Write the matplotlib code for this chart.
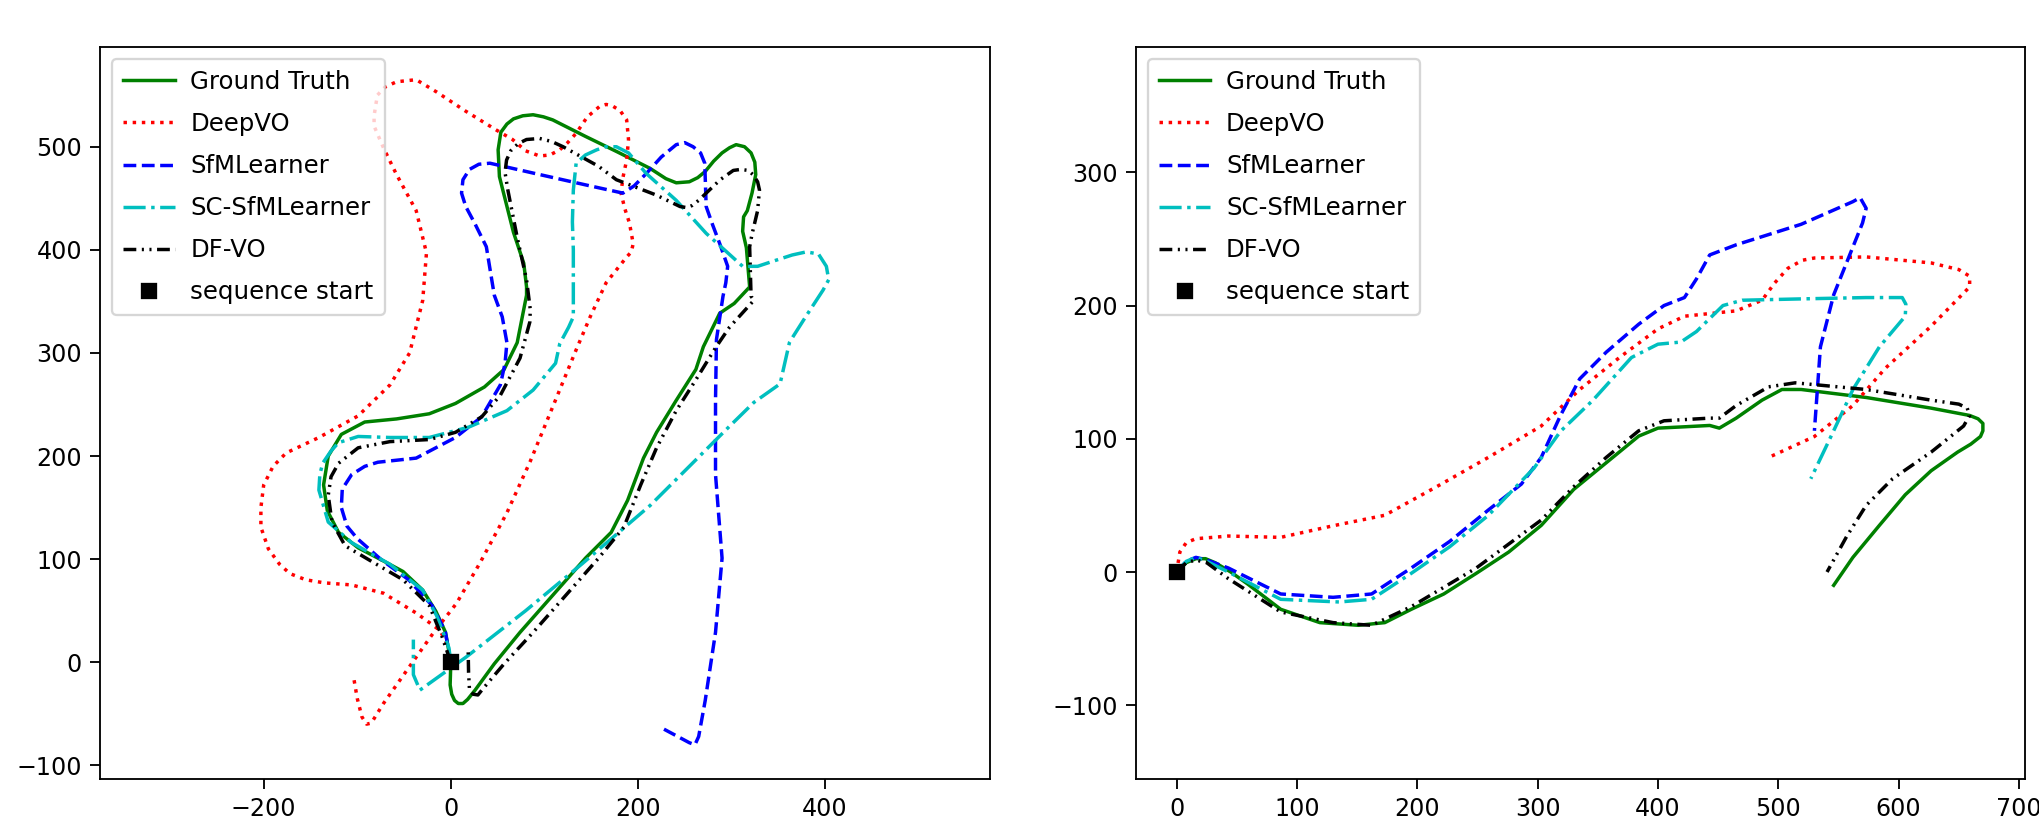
import matplotlib
matplotlib.use("Agg")
import matplotlib.pyplot as plt

# ---------------- Left panel (sequence 09) ----------------
gt09_x = [0, -5.6, -16, -30, -51, -71.5, -99, -120, -132, -136, -131, -117, -92, -58, -23, 5, 36, 57, 71, 81,
          81, 78, 67, 57, 52, 50.6, 53.5, 60, 67, 77, 88, 99, 109, 144, 178, 213, 230, 241, 255, 264, 272, 281,
          290, 298, 305, 314, 321, 325, 326, 322, 317, 313, 312, 316, 318, 319.5, 303, 287.5, 270, 262, 241,
          220, 206, 189, 171.5, 144, 109, 74, 46.5, 26, 18, 13, 8, 4, 1, -0.7, 0]
gt09_y = [0, 29, 49.5, 70, 88, 98, 111, 126, 147, 172, 200, 221, 233, 236, 241, 251, 267, 284, 310, 356,
          364, 387, 417, 453, 471, 497, 514, 522, 527, 530, 531, 529, 526, 510, 495, 479, 469, 465, 466, 470,
          476, 486, 494, 499, 502, 500, 494, 485, 473, 455, 438, 432, 418, 402, 380, 364, 348, 338.5, 306,
          284, 254, 223, 198, 157, 126, 101, 65, 29, -1.5, -27, -36, -40, -40, -37, -31, -22, -1.5]

deepvo09_x = [0, -4.5, -11.6, -36.5, -72, -106, -135, -155, -172, -183, -195, -203, -203, -200, -190, -176,
              -141, -99, -65, -44, -30, -26, -37, -58, -72, -82, -82, -78.5, -70, -58, -37, -15, 15, 49, 66,
              80, 95, 106, 116.5, 125, 134, 146, 159, 166, 172, 181, 188, 190, 188, 184, 182, 186, 191, 195,
              193, 188, 166, 149, 134, 110, 85, 60, 31, 6, -19, -44, -72, -85, -90, -95, -100, -104]
deepvo09_y = [0, 18.4, 31, 47.5, 67, 75, 77, 80, 86, 95, 110, 131, 150, 172, 190, 203, 218, 239, 269, 300,
              351, 397, 438, 473, 499, 520, 530, 550, 558, 563, 565, 553, 535, 516, 507, 496, 491, 492, 497,
              504, 513, 529, 539, 541, 540, 535, 526, 507, 487, 470, 455, 440, 426, 406, 398, 393, 368, 335,
              303, 250, 195, 145, 96, 57, 28, -4, -40, -59, -60, -53, -35, -14]

sfm09_x = [0, -6, -20, -45, -75, -100, -111, -117, -116, -106, -92, -78, -37, 5, 33, 53, 58, 60, 55, 46.5,
           38, 26, 16, 11.5, 13, 20, 30, 41.8, 95, 144, 184, 196, 209, 225, 241, 250, 259, 267, 271.5, 273,
           280, 287.5, 296, 294, 291, 284, 283, 283, 290, 283, 272, 265, 261, 255, 224]
sfm09_y = [0, 30, 55, 80, 100, 120, 132, 150, 168, 182, 190, 194, 198, 218, 238, 269, 290, 310, 335, 356,
           403, 425, 442, 455, 468, 478, 483, 484, 473, 463, 455, 462, 474, 490, 502, 504, 500, 494, 484, 442,
           424, 406, 384, 368, 355, 313, 254, 182, 101, 29, -37, -72, -80, -78, -63]

sc09_x = [0, -2, -15, -30, -65, -106, -131, -141, -140, -137, -128, -120, -99, -65, -23, 19, 60, 88, 112,
          116.5, 126, 131, 131, 130, 131, 134, 144, 156, 166, 177, 190, 209, 241, 273, 312, 328, 348, 365,
          380, 393, 401.5, 404, 398, 380, 366, 362, 352, 324, 297, 255, 213, 141, 80, 16.9, -33, -40, -40]
sc09_y = [0, 14, 45, 70, 95, 116, 136, 167, 182, 193, 205, 213, 219, 218, 218, 228, 244, 264, 290,
          309, 325, 335, 400, 427, 458, 484, 492, 497, 500, 500, 494, 474, 448, 416, 384, 384, 390, 395,
          398, 396, 384, 371, 361, 336, 316, 310, 270, 252, 228, 190, 152, 96, 50, 5.4, -27, -12, 22]

dfvo09_x = [0, -9, -23, -51, -85, -113, -127, -131, -128, -120, -99, -65, -23, 5, 33, 53, 74, 84.5, 85, 81,
            71, 61, 58, 59.6, 64, 72, 81, 95, 108, 120, 158, 177, 220, 245, 252, 258, 265, 273, 288, 302, 310,
            318, 323, 328, 330, 328, 322, 319.5, 321, 324, 298, 283, 262, 241, 220, 203, 185, 158, 123, 88,
            57, 35, 29, 24, 20, 19, 18.6]
dfvo09_y = [0, 24, 55, 80, 98, 113, 136, 162, 180, 193, 208, 214, 216, 223, 238, 259, 295, 330, 342, 371,
            412, 458, 475, 487, 496, 503, 507, 508, 505, 500, 481, 468, 453, 442, 441, 443, 448, 455, 468, 477,
            478, 477, 473, 466, 458, 438, 415, 403, 355, 351, 325, 305, 274, 244, 208, 172, 131, 101, 65, 29,
            -1.5, -25, -31.7, -31, -27, -10, 10.3]

# ---------------- Right panel (sequence 10) ----------------
gt10_x = [0, 8, 16, 24, 32, 45, 59, 86.5, 119, 151, 173, 195, 222, 249, 276, 303, 330, 357, 384, 400, 422,
          443, 451, 465, 486.5, 503, 519, 573, 627, 659, 666, 670, 670, 668, 660, 649, 627, 605.5, 584, 562,
          546]
gt10_y = [0, 7, 10, 10, 7, 0, -9, -28, -38, -40, -38, -28, -16.5, -1, 15, 35, 62, 82, 102, 108, 109,
          110, 108, 115.5, 129, 137, 137, 131, 123, 117.5, 115, 111.5, 106, 101.7, 96, 90, 76, 58, 35, 11,
          -10]

deepvo10_x = [0, 2.7, 8, 16, 30, 43, 86.5, 130, 173, 216, 259, 303, 335, 368, 400, 422, 443, 465, 486.5,
              497, 508, 520, 530, 573, 627, 650, 659, 659, 627, 589, 562, 530, 492]
deepvo10_y = [0, 15, 22, 25, 26, 27, 26, 34.7, 42.6, 64, 86, 109.6, 137, 161, 182.5, 192, 194, 196, 204,
              217, 228, 234, 235.7, 236.5, 232, 227, 222, 214, 184.5, 153, 125, 101.7, 86]

sfm10_x = [0, 8, 16, 25, 43, 86.5, 130, 162, 195, 227, 259, 286.5, 303, 319, 335, 357, 384, 405, 422, 432,
           443, 465, 519, 562, 568, 573, 570, 562, 546, 535, 530]
sfm10_y = [0, 8, 11, 9, 3, -16.5, -19, -16.5, 3, 23, 46.5, 66, 86, 117.5, 145, 165, 186, 200, 206, 220,
           238, 245.6, 261, 278, 281, 273, 262, 244, 208, 169, 106]

sc10_x = [0, 8, 16, 25, 43, 86.5, 135, 162, 195, 227, 259, 297, 319, 346, 378, 400, 419, 432, 454, 470, 519,
          573, 603, 606, 605.5, 584, 562, 546, 527]
sc10_y = [0, 8, 11, 8, 0, -20.5, -22.5, -20.5, -1, 19, 42.5, 78, 105.6, 129, 161, 171, 172.6, 180.5, 200,
          204, 205, 206, 206, 201, 192, 169, 137, 106, 70]

dfvo10_x = [0, 8, 16, 25, 43, 86.5, 130, 162, 195, 249, 303, 330, 357, 384, 405, 443, 451, 465, 492, 514,
            573, 627, 650, 657, 659, 654, 627, 595, 573, 557, 540.5]
dfvo10_y = [0, 7, 9, 7, -5, -30, -38, -40, -26, 3, 39, 64, 86, 106, 113.5, 115.5, 115.5, 125, 139, 142,
            137, 129, 126, 123, 117.5, 109.6, 90, 70, 50, 27, 0]

labels = ["Ground Truth", "DeepVO", "SfMLearner", "SC-SfMLearner", "DF-VO", "sequence start"]
start_xy = (0, 0)

left_xlim = (-375, 576)
left_ylim = (-113.5, 597)
left_xticks = [-200, 0, 200, 400]
left_yticks = [-100, 0, 100, 200, 300, 400, 500]
right_xlim = (-34, 705)
right_ylim = (-155.6, 394.3)
right_xticks = [0, 100, 200, 300, 400, 500, 600, 700]
right_yticks = [-100, 0, 100, 200, 300]

DPI = 166
fig = plt.figure(figsize=(2039 / DPI, 826 / DPI), dpi=DPI)
plt.rcParams['font.family'] = ['DejaVu Sans']

ax1 = fig.add_axes([100 / 2039, 46.7 / 826, 889.6 / 2039, 732.6 / 826])
ax2 = fig.add_axes([1135.7 / 2039, 46.7 / 826, 889.3 / 2039, 732.6 / 826])

dfvo_style = (0, (3.7, 1.6, 0.6, 1.6, 0.6, 1.6))


def draw(ax, gt, dv, sf, sc, df, xlim, ylim, xt, yt):
    ax.plot(gt[0], gt[1], color='g', ls='-', lw=1.5, label=labels[0])
    ax.plot(dv[0], dv[1], color='r', ls=':', lw=1.5, label=labels[1])
    ax.plot(sf[0], sf[1], color='b', ls='--', lw=1.5, label=labels[2])
    ax.plot(sc[0], sc[1], color='c', ls='-.', lw=1.5, label=labels[3])
    ax.plot(df[0], df[1], color='k', ls=dfvo_style, lw=1.5, label=labels[4])
    ax.plot([start_xy[0]], [start_xy[1]], 'ks', markersize=6, label=labels[5])
    ax.set_xlim(*xlim)
    ax.set_ylim(*ylim)
    ax.set_xticks(xt)
    ax.set_yticks(yt)
    ax.tick_params(labelsize=10.3, length=4.3)
    ax.legend(loc='upper left', fontsize=10.6, labelspacing=0.74, handlelength=2.1,
              handletextpad=0.65, borderpad=0.45)


draw(ax1, (gt09_x, gt09_y), (deepvo09_x, deepvo09_y), (sfm09_x, sfm09_y), (sc09_x, sc09_y),
     (dfvo09_x, dfvo09_y), left_xlim, left_ylim, left_xticks, left_yticks)
draw(ax2, (gt10_x, gt10_y), (deepvo10_x, deepvo10_y), (sfm10_x, sfm10_y), (sc10_x, sc10_y),
     (dfvo10_x, dfvo10_y), right_xlim, right_ylim, right_xticks, right_yticks)

fig.savefig("out.png", dpi=DPI)
